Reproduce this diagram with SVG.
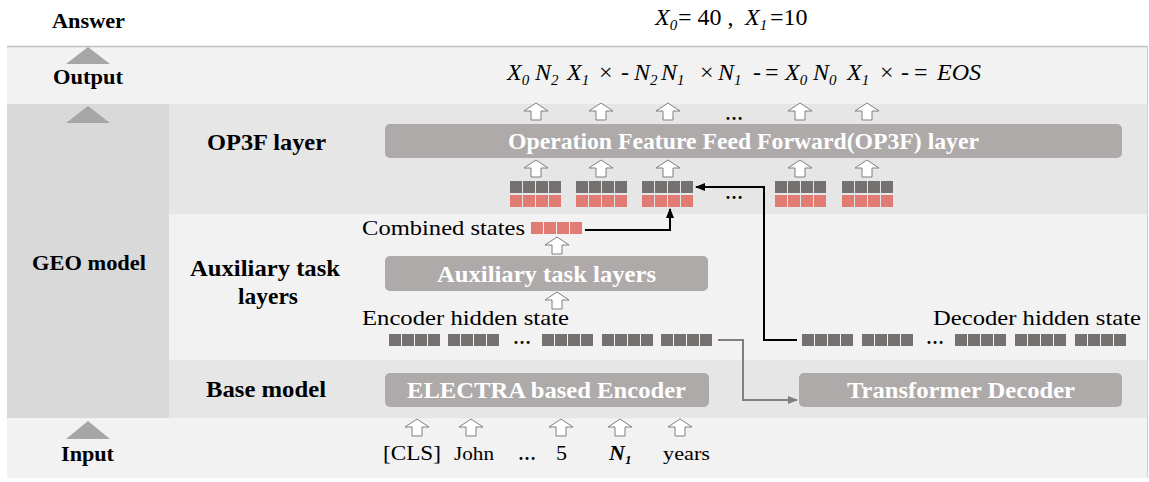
<svg xmlns="http://www.w3.org/2000/svg" xmlns:xlink="http://www.w3.org/1999/xlink" width="1149" height="482" viewBox="0 0 1149 482">
<style>
.lbl{font-family:"Liberation Serif","Times New Roman",serif;font-weight:bold;font-size:22px;fill:#000}
.box{fill:#aeaaaa}
.boxt{font-family:"Liberation Serif","Times New Roman",serif;font-weight:bold;font-size:23px;fill:#fff}
.txt{font-family:"Liberation Serif","Times New Roman",serif;font-size:22px;fill:#000}
.math{font-family:"Liberation Serif","Times New Roman",serif;font-size:24px;fill:#000}
.it{font-style:italic}
.tri{fill:#a6a6a6}
.ua{fill:#fff;stroke:#7f7f7f;stroke-width:1}
.dk{fill:#767171}
.pk{fill:#e07c74}
.dots{font-family:"Liberation Serif","Times New Roman",serif;font-weight:bold;font-size:18px;fill:#000}
</style>
<defs>
<path id="ua" class="ua" d="M0,0 L12,8 L5,8 L5,17 L-5,17 L-5,8 L-12,8 Z"/>
<g id="d4"><rect class="dk" x="0" y="0" width="12" height="12"/><rect class="dk" x="13" y="0" width="12" height="12"/><rect class="dk" x="26" y="0" width="12" height="12"/><rect class="dk" x="39" y="0" width="12" height="12"/></g>
<g id="p4"><rect class="pk" x="0" y="0" width="12" height="12"/><rect class="pk" x="13" y="0" width="12" height="12"/><rect class="pk" x="26" y="0" width="12" height="12"/><rect class="pk" x="39" y="0" width="12" height="12"/></g>
<marker id="ab" markerWidth="10" markerHeight="8" refX="9" refY="4" orient="auto" markerUnits="userSpaceOnUse"><path d="M0,0 L10,4 L0,8 Z" fill="#000"/></marker>
<marker id="ag" markerWidth="10" markerHeight="8" refX="9" refY="4" orient="auto" markerUnits="userSpaceOnUse"><path d="M0,0 L10,4 L0,8 Z" fill="#7f7f7f"/></marker>
</defs>

<!-- background bands -->
<g id="bands">
<rect x="7" y="46" width="1140" height="58" fill="#f2f2f2"/>
<rect x="7" y="104" width="162" height="315" fill="#d9d9d9"/>
<rect x="169" y="104" width="978" height="110" fill="#e7e6e6"/>
<rect x="169" y="214" width="978" height="146" fill="#f2f2f2"/>
<rect x="169" y="360" width="978" height="58" fill="#e7e6e6"/>
<rect x="7" y="418" width="1140" height="60" fill="#f2f2f2"/>
<line x1="7" y1="46.5" x2="1147" y2="46.5" stroke="#bfbfbf" stroke-width="1.5"/>
<line x1="1147.5" y1="46" x2="1147.5" y2="478" stroke="#d0d0d0" stroke-width="1"/>
<polygon class="tri" points="88,47 110,64 66,64"/>
<polygon class="tri" points="88,106 110,123 66,123"/>
<polygon class="tri" points="88,421 110,439 66,439"/>
</g>

<!-- row labels -->
<g id="labels">
<text class="lbl" x="52" y="28" textLength="73" lengthAdjust="spacingAndGlyphs">Answer</text>
<text class="lbl" x="53" y="84" textLength="70" lengthAdjust="spacingAndGlyphs">Output</text>
<text class="lbl" x="32" y="270" textLength="114" lengthAdjust="spacingAndGlyphs">GEO model</text>
<text class="lbl" x="207" y="150" style="font-size:24px" textLength="119" lengthAdjust="spacingAndGlyphs">OP3F layer</text>
<text class="lbl" x="190" y="276" style="font-size:24px" textLength="150" lengthAdjust="spacingAndGlyphs">Auxiliary task</text>
<text class="lbl" x="238" y="304" style="font-size:24px" textLength="60" lengthAdjust="spacingAndGlyphs">layers</text>
<text class="lbl" x="206" y="397" style="font-size:23px" textLength="120" lengthAdjust="spacingAndGlyphs">Base model</text>
<text class="lbl" x="61" y="461" textLength="53" lengthAdjust="spacingAndGlyphs">Input</text>
</g>

<!-- answer & output formulas -->
<g id="answer">
<text class="math"><tspan class="it" x="655" y="25">X</tspan><tspan class="it" font-size="15" dy="5">0</tspan><tspan x="678" dy="-5">= 40 ,</tspan><tspan class="it" x="745">X</tspan><tspan class="it" font-size="15" dy="5">1</tspan><tspan x="770" dy="-5">=10</tspan></text>
</g>
<g id="output">
<text class="math">
<tspan class="it" x="507" y="80">X</tspan><tspan class="it" font-size="15" dy="5">0</tspan>
<tspan class="it" x="535" dy="-5">N</tspan><tspan class="it" font-size="15" dy="5">2</tspan>
<tspan class="it" x="567" dy="-5">X</tspan><tspan class="it" font-size="15" dy="5">1</tspan>
<tspan x="599" dy="-5">×</tspan>
<tspan x="621">-</tspan>
<tspan class="it" x="634">N</tspan><tspan class="it" font-size="15" dy="5">2</tspan><tspan class="it" x="661" dy="-5">N</tspan><tspan class="it" font-size="15" dy="5">1</tspan>
<tspan x="700" dy="-5">×</tspan>
<tspan class="it" x="718">N</tspan><tspan class="it" font-size="15" dy="5">1</tspan>
<tspan x="753" dy="-5">-</tspan>
<tspan x="765">=</tspan>
<tspan class="it" x="785">X</tspan><tspan class="it" font-size="15" dy="5">0</tspan>
<tspan class="it" x="813" dy="-5">N</tspan><tspan class="it" font-size="15" dy="5">0</tspan>
<tspan class="it" x="847" dy="-5">X</tspan><tspan class="it" font-size="15" dy="5">1</tspan>
<tspan x="880" dy="-5">×</tspan>
<tspan x="901">-</tspan>
<tspan x="914">=</tspan>
<tspan class="it" x="937">EOS</tspan>
</text>
</g>

<!-- OP3F layer -->
<g id="op3f">
<rect class="box" x="385" y="124" width="737" height="34" rx="5"/>
<text class="boxt" x="508" y="149" textLength="471" lengthAdjust="spacingAndGlyphs">Operation Feature Feed Forward(OP3F) layer</text>
<use href="#ua" x="536" y="103"/><use href="#ua" x="601" y="103"/><use href="#ua" x="668" y="103"/><use href="#ua" x="800" y="103"/><use href="#ua" x="867" y="103"/>
<text class="dots" x="734" y="120" text-anchor="middle">…</text>
<use href="#ua" x="536" y="160"/><use href="#ua" x="601" y="160"/><use href="#ua" x="668" y="160"/><use href="#ua" x="800" y="160"/><use href="#ua" x="867" y="160"/>
<use href="#d4" x="510" y="181"/><use href="#p4" x="510" y="195"/>
<use href="#d4" x="576" y="181"/><use href="#p4" x="576" y="195"/>
<use href="#d4" x="642" y="181"/><use href="#p4" x="642" y="195"/>
<use href="#d4" x="775" y="181"/><use href="#p4" x="775" y="195"/>
<use href="#d4" x="842" y="181"/><use href="#p4" x="842" y="195"/>
<text class="dots" x="734" y="199" text-anchor="middle">…</text>
</g>

<!-- combined states -->
<g id="combined">
<text class="txt" x="362" y="235" textLength="163" lengthAdjust="spacingAndGlyphs">Combined states</text>
<use href="#p4" x="531" y="222"/>
<use href="#ua" x="557" y="237"/>
</g>

<!-- auxiliary task layers -->
<g id="aux">
<rect class="box" x="385" y="256" width="323" height="35" rx="5"/>
<text class="boxt" x="437" y="282" style="font-size:24px" textLength="219" lengthAdjust="spacingAndGlyphs">Auxiliary task layers</text>
<use href="#ua" x="557" y="292"/>
</g>

<!-- encoder hidden state -->
<g id="enc-hidden">
<text class="txt" x="362" y="325" textLength="207" lengthAdjust="spacingAndGlyphs">Encoder hidden state</text>
<use href="#d4" x="389" y="334"/><use href="#d4" x="448" y="334"/>
<text class="dots" x="522" y="344" text-anchor="middle">…</text>
<use href="#d4" x="542" y="334"/><use href="#d4" x="602" y="334"/><use href="#d4" x="661" y="334"/>
</g>

<!-- decoder hidden state -->
<g id="dec-hidden">
<text class="txt" x="933" y="325" textLength="208" lengthAdjust="spacingAndGlyphs">Decoder hidden state</text>
<use href="#d4" x="802" y="334"/><use href="#d4" x="862" y="334"/>
<text class="dots" x="935" y="344" text-anchor="middle">…</text>
<use href="#d4" x="955" y="334"/><use href="#d4" x="1015" y="334"/><use href="#d4" x="1075" y="334"/>
</g>

<!-- base model -->
<g id="encoder">
<rect class="box" x="385" y="373" width="324" height="34" rx="5"/>
<text class="boxt" x="407" y="398" textLength="279" lengthAdjust="spacingAndGlyphs">ELECTRA based Encoder</text>
</g>
<g id="decoder">
<rect class="box" x="799" y="373" width="323" height="34" rx="5"/>
<text class="boxt" x="847" y="398" textLength="228" lengthAdjust="spacingAndGlyphs">Transformer Decoder</text>
</g>

<!-- input tokens -->
<g id="input">
<use href="#ua" x="417" y="419"/><use href="#ua" x="471" y="419"/><use href="#ua" x="561" y="419"/><use href="#ua" x="620" y="419"/><use href="#ua" x="680" y="419"/>
<text class="txt" x="383" y="460" textLength="58" lengthAdjust="spacingAndGlyphs">[CLS]</text>
<text class="txt" x="454" y="460" style="font-size:19px" textLength="40" lengthAdjust="spacingAndGlyphs">John</text>
<text class="dots" x="527" y="460" text-anchor="middle">…</text>
<text class="txt" x="556" y="460">5</text>
<text class="txt" x="609" y="460" style="font-weight:bold;font-style:italic"><tspan>N</tspan><tspan font-size="13" dy="4">1</tspan></text>
<text class="txt" x="663" y="460" style="font-size:19px" textLength="47" lengthAdjust="spacingAndGlyphs">years</text>
</g>

<!-- connectors -->
<g id="connectors" fill="none">
<polyline points="585,230 670,230 670,209" stroke="#000" stroke-width="2" marker-end="url(#ab)"/>
<polyline points="797,340 764,340 764,187 696,187" stroke="#000" stroke-width="2" marker-end="url(#ab)"/>
<polyline points="718,340 743,340 743,400 797,400" stroke="#7f7f7f" stroke-width="2" marker-end="url(#ag)"/>
</g>
</svg>
